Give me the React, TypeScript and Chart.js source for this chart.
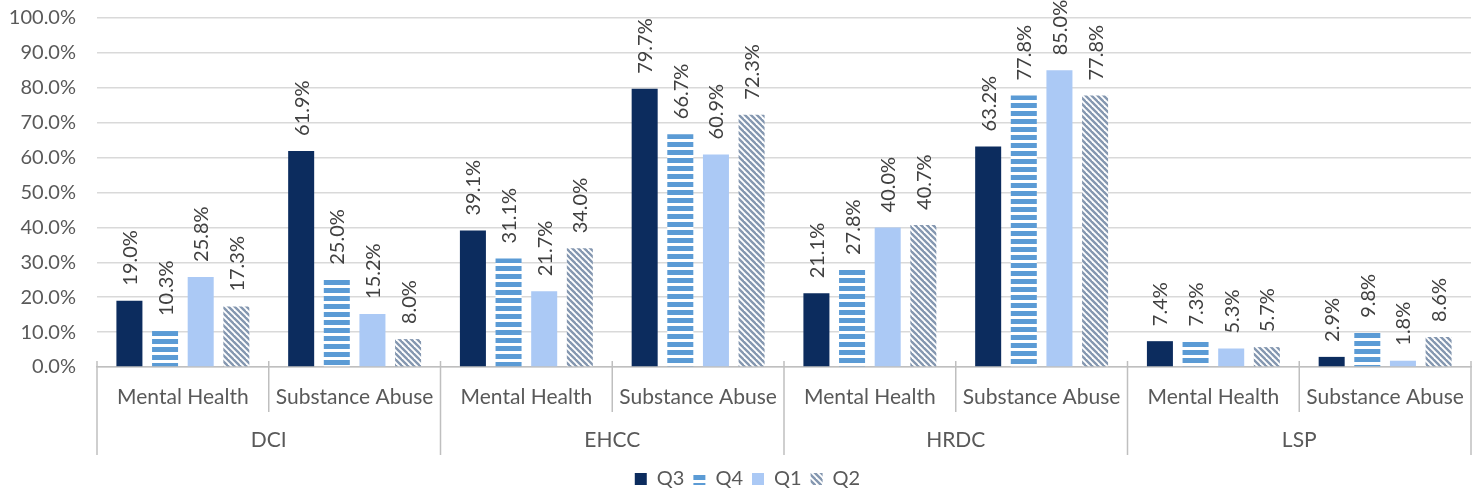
import React, { useEffect, useRef } from "react";
import { Chart, registerables } from "chart.js";

Chart.register(...registerables);

const subCategories = [
  "Mental Health", "Substance Abuse",
  "Mental Health", "Substance Abuse",
  "Mental Health", "Substance Abuse",
  "Mental Health", "Substance Abuse",
];
const groups = ["DCI", "EHCC", "HRDC", "LSP"];
const seriesNames = ["Q3", "Q4", "Q1", "Q2"];

const q3Values = [19.0, 61.9, 39.1, 79.7, 21.1, 63.2, 7.4, 2.9];
const q4Values = [10.3, 25.0, 31.1, 66.7, 27.8, 77.8, 7.3, 9.8];
const q1Values = [25.8, 15.2, 21.7, 60.9, 40.0, 85.0, 5.3, 1.8];
const q2Values = [17.3, 8.0, 34.0, 72.3, 40.7, 77.8, 5.7, 8.6];

const yMin = 0;
const yMax = 100;
const yStep = 10;

const FONT = "Lato, 'Open Sans', sans-serif";
const TEXT = "#595959";
const LABEL_TEXT = "#404040";
const AXIS = "#bfbfbf";

function makeHorizontalPattern(color: string): CanvasPattern | string {
  const c = document.createElement("canvas");
  c.width = 8;
  c.height = 8;
  const ctx = c.getContext("2d");
  if (!ctx) return color;
  ctx.fillStyle = "#ffffff";
  ctx.fillRect(0, 0, 8, 8);
  ctx.fillStyle = color;
  ctx.fillRect(0, 0, 8, 5);
  return ctx.createPattern(c, "repeat") || color;
}

function makeDiagonalPattern(color: string): CanvasPattern | string {
  const s = 6;
  const c = document.createElement("canvas");
  c.width = s;
  c.height = s;
  const ctx = c.getContext("2d");
  if (!ctx) return color;
  ctx.fillStyle = "#ffffff";
  ctx.fillRect(0, 0, s, s);
  ctx.strokeStyle = color;
  ctx.lineWidth = 2.4;
  for (let k = -s; k <= s; k += s) {
    ctx.beginPath();
    ctx.moveTo(k - 1, -1);
    ctx.lineTo(k + s + 1, s + 1);
    ctx.stroke();
  }
  return ctx.createPattern(c, "repeat") || color;
}

const dataLabelPlugin = {
  id: "dataLabels",
  afterDatasetsDraw(chart: any) {
    const ctx = chart.ctx;
    ctx.save();
    ctx.font = `20px ${FONT}`;
    ctx.fillStyle = LABEL_TEXT;
    ctx.textAlign = "left";
    ctx.textBaseline = "middle";
    chart.data.datasets.forEach((ds: any, di: number) => {
      const meta = chart.getDatasetMeta(di);
      meta.data.forEach((el: any, i: number) => {
        const v = ds.data[i] as number;
        ctx.save();
        ctx.translate(el.x, el.y - 15);
        ctx.rotate(-Math.PI / 2);
        ctx.fillText(v.toFixed(1) + "%", 0, 1);
        ctx.restore();
      });
    });
    ctx.restore();
  },
};

const legendShiftPlugin = {
  id: "legendShift",
  afterLayout(chart: any) {
    const lg = chart.legend;
    if (lg) {
      lg.left += 12;
      lg.right += 12;
    }
  },
};

const multiLevelAxisPlugin = {
  id: "multiLevelAxis",
  afterDraw(chart: any) {
    const ctx = chart.ctx;
    const xs = chart.scales.x;
    const area = chart.chartArea;
    const n = subCategories.length;
    const cw = (area.right - area.left) / n;
    const base = area.bottom;
    ctx.save();
    ctx.strokeStyle = AXIS;
    ctx.lineWidth = 1.5;
    for (let i = 0; i <= n; i++) {
      const x = i < n ? xs.getPixelForValue(i) - cw / 2 : xs.getPixelForValue(n - 1) + cw / 2;
      const isGroup = i % 2 === 0;
      ctx.beginPath();
      ctx.moveTo(x, base - 6);
      ctx.lineTo(x, base + (isGroup ? 88 : 45));
      ctx.stroke();
    }
    ctx.fillStyle = TEXT;
    ctx.font = `21px ${FONT}`;
    ctx.textAlign = "center";
    ctx.textBaseline = "middle";
    for (let i = 0; i < n; i++) {
      ctx.fillText(subCategories[i], xs.getPixelForValue(i), base + 30);
    }
    groups.forEach((g, gi) => {
      const x = (xs.getPixelForValue(gi * 2) + xs.getPixelForValue(gi * 2 + 1)) / 2;
      ctx.fillText(g, x, base + 73);
    });
    ctx.restore();
  },
};

export default function App() {
  const ref = useRef<HTMLCanvasElement | null>(null);
  useEffect(() => {
    if (!ref.current) return;
    const patQ4 = makeHorizontalPattern("#5b9bd5");
    const patQ2 = makeDiagonalPattern("#8497b0");
    const q4Fill = (c: any) => {
      if (c.type !== "data") return patQ4;
      const ys = c.chart.scales && c.chart.scales.y;
      if (!ys || typeof c.raw !== "number") return patQ4;
      const p = makeHorizontalPattern("#5b9bd5");
      const top = Math.round(ys.getPixelForValue(c.raw));
      if (typeof p !== "string" && typeof DOMMatrix !== "undefined") {
        p.setTransform(new DOMMatrix().translate(0, top));
      }
      return p;
    };
    const fills = ["#0c2c5e", q4Fill, "#abc9f5", patQ2];
    const values = [q3Values, q4Values, q1Values, q2Values];
    const chart = new Chart(ref.current, {
      type: "bar",
      data: {
        labels: subCategories,
        datasets: seriesNames.map((name, i) => ({
          label: name,
          data: values[i],
          backgroundColor: fills[i] as any,
          borderWidth: 0,
          categoryPercentage: 0.83,
          barPercentage: 0.73,
        })),
      },
      options: {
        animation: false,
        responsive: true,
        maintainAspectRatio: false,
        layout: { padding: { top: 18, right: 7, left: 0, bottom: 0 } },
        plugins: {
          legend: {
            position: "bottom",
            labels: {
              boxWidth: 12,
              boxHeight: 12,
              padding: 9,
              color: TEXT,
              font: { family: FONT, size: 20 },
            },
          },
          tooltip: { enabled: false },
        },
        scales: {
          x: {
            grid: { display: false },
            border: { display: true, color: AXIS, width: 1.5 },
            ticks: { display: false },
            afterFit: (scale: any) => {
              scale.height = 93;
            },
          },
          y: {
            min: yMin,
            max: yMax,
            grid: { color: "#d9d9d9", lineWidth: 1.5, drawTicks: false },
            border: { display: false },
            ticks: {
              stepSize: yStep,
              padding: 21,
              color: TEXT,
              font: { family: FONT, size: 20 },
              callback: (v: any) => Number(v).toFixed(1) + "%",
            },
            afterFit: (scale: any) => {
              scale.width = 97;
              scale.paddingTop = 0;
              scale.paddingBottom = 0;
            },
          },
        },
      },
      plugins: [dataLabelPlugin, multiLevelAxisPlugin, legendShiftPlugin],
    });
    return () => chart.destroy();
  }, []);
  return (
    <div style={{ position: "fixed", left: 0, top: 0, width: 1478, height: 499, background: "#fff" }}>
      <canvas ref={ref} />
    </div>
  );
}
